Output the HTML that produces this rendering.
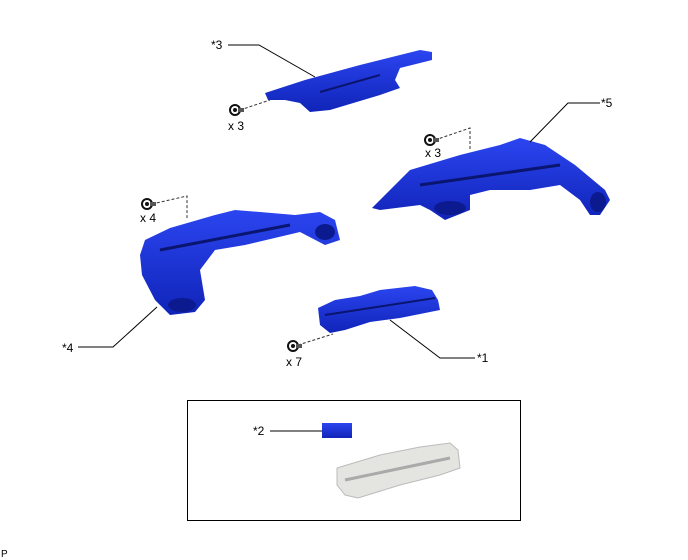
<!DOCTYPE html>
<html><head><style>
html,body{margin:0;padding:0;background:#fff;}
svg{display:block;font-family:"Liberation Sans",sans-serif;}
</style></head><body>
<svg width="688" height="560" viewBox="0 0 688 560" xmlns="http://www.w3.org/2000/svg">
<defs>
<linearGradient id="b" x1="0" y1="0" x2="0" y2="1">
<stop offset="0" stop-color="#2b45f0"/><stop offset="1" stop-color="#1024b8"/>
</linearGradient>
<g id="bolt"><circle r="5" fill="#fff" stroke="#111" stroke-width="2"/><circle r="2" fill="#111"/><rect x="3" y="-2" width="6" height="4" fill="#555"/></g>
</defs>
<!-- part 3 -->
<polygon points="265,93 305,80 360,65 420,50 432,52 432,60 400,68 395,80 400,88 380,95 330,110 310,112 300,103 285,100 268,100" fill="url(#b)"/>
<line x1="320" y1="92" x2="380" y2="75" stroke="#0a1570" stroke-width="2"/>
<!-- part 5 -->
<polygon points="372,208 385,195 410,170 460,155 500,145 520,138 545,145 575,165 605,190 610,200 600,215 590,215 580,200 560,185 530,190 490,190 470,195 470,210 445,220 430,210 420,205 380,210" fill="url(#b)"/>
<line x1="420" y1="185" x2="560" y2="165" stroke="#0a1570" stroke-width="3"/>
<ellipse cx="450" cy="208" rx="16" ry="7" fill="#0c1a90"/>
<ellipse cx="598" cy="202" rx="8" ry="10" fill="#0c1a90"/>
<!-- part 4 -->
<polygon points="145,240 170,228 215,215 235,210 260,212 295,215 320,212 335,220 340,240 325,245 300,232 245,245 215,250 200,270 205,300 195,312 170,315 155,300 142,275 140,255" fill="url(#b)"/>
<line x1="160" y1="250" x2="290" y2="225" stroke="#0a1570" stroke-width="3"/>
<ellipse cx="325" cy="232" rx="10" ry="8" fill="#0c1a90"/>
<ellipse cx="182" cy="305" rx="14" ry="7" fill="#0c1a90"/>
<!-- part 1 -->
<polygon points="318,308 335,300 360,296 380,290 415,286 432,290 438,300 440,310 430,312 400,318 370,322 345,330 330,333 320,325" fill="url(#b)"/>
<line x1="325" y1="315" x2="435" y2="298" stroke="#0a1570" stroke-width="2"/>
<!-- bolts & dashes -->
<g stroke="#333" stroke-dasharray="3,2" fill="none">
<path d="M240,110 L270,100"/>
<path d="M435,140 L470,128 L470,150"/>
<path d="M152,204 L187,196 L187,218"/>
<path d="M298,345 L333,334"/>
</g>
<use href="#bolt" x="235" y="110"/>
<use href="#bolt" x="430" y="140"/>
<use href="#bolt" x="147" y="204"/>
<use href="#bolt" x="293" y="346"/>
<!-- leaders -->
<g stroke="#000" fill="none" stroke-width="1">
<path d="M228,45 L259,45 L315,77"/>
<path d="M600,103 L568,103 L530,142"/>
<path d="M78,347 L113,347 L157,307"/>
<path d="M475,358 L440,358 L390,320"/>
<path d="M270,431 L322,431"/>
</g>
<g font-size="12" fill="#000">
<text x="211" y="49">*3</text>
<text x="601" y="107">*5</text>
<text x="62" y="352">*4</text>
<text x="477" y="362">*1</text>
<text x="253" y="435">*2</text>
<text x="228" y="130">x 3</text>
<text x="425" y="157">x 3</text>
<text x="140" y="222">x 4</text>
<text x="286" y="366">x 7</text>
<text x="1" y="557" font-size="10">P</text>
</g>
<rect x="187.5" y="400.5" width="333" height="120" fill="none" stroke="#000"/>
<rect x="322" y="423" width="30" height="15" fill="url(#b)"/>
<polygon points="337,468 380,455 420,447 450,443 458,450 460,468 440,475 400,485 358,498 345,495 337,485" fill="#e4e4e0" stroke="#bbb"/>
<line x1="345" y1="480" x2="450" y2="458" stroke="#aaa" stroke-width="3"/>
</svg>
</body></html>
